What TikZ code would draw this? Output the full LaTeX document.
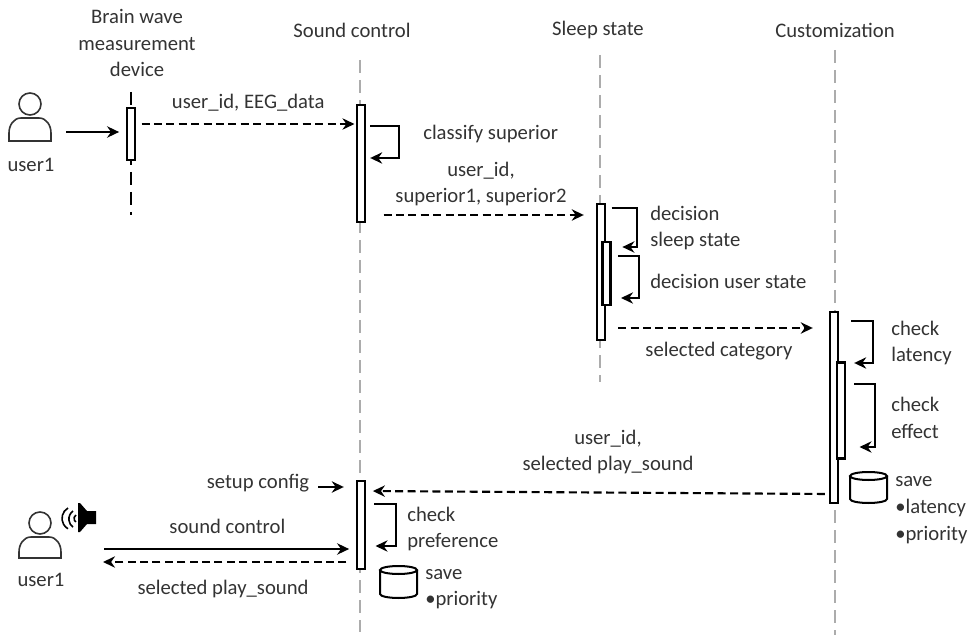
\documentclass[tikz,border=0pt]{standalone}
\usepackage{fontspec}
\setmainfont{Carlito}
\usetikzlibrary{arrows.meta}

\begin{document}
\begin{tikzpicture}[
        x=0.75pt, y=-0.75pt,
        actbox/.style={rectangle, draw=black, fill=white, line width=1.8pt, inner sep=0pt, minimum width=6pt},
        lifeline/.style={dash pattern=on 10pt off 5pt, line width=1.3pt, gray!65},
        msg/.style={-{Stealth[length=9pt,width=8.5pt]}, line width=1.6pt, black},
        dashmsg/.style={msg, dash pattern=on 6pt off 3.3pt},
        selfmsg/.style={msg, line width=1.4pt},
        label/.style={text=black!80, font=\fontsize{15.5}{20}\selectfont, align=center, inner sep=0pt},
        leftlabel/.style={label, align=left, anchor=west},
        actor/.style={draw=black!80, line width=1.2pt, fill=white},
        store/.style={draw=black, line width=1.5pt, fill=white}
    ]
    \useasboundingbox (0,0) rectangle (972,638);

    % Lifelines
    \node[label] (devname) at (137,43) {Brain wave\\measurement\\device};
    \node[label] (sndname) at (352,30) {Sound control};
    \node[label] (slpname) at (598,30) {Sleep state};
    \node[label] (cusname) at (835,30) {Customization};
    \draw[lifeline, black, line width=1.5pt] (131,92) -- (131,215);
    \draw[lifeline] (360,60) -- (360,632);
    \draw[lifeline] (600,55) -- (600,382);
    \draw[lifeline] (835,50) -- (835,635);

    % Activation boxes
    \node[actbox, minimum height=39pt] (devbox) at (131,134) {};
    \node[actbox, minimum height=88pt] (sndtop) at (361,163.5) {};
    \node[actbox, minimum height=102pt] (slpbox) at (601,272) {};
    \node[actbox, minimum height=47pt] (slpin) at (606.5,273.5) {};
    \node[actbox, minimum height=143pt] (cusbox) at (834,407.5) {};
    \node[actbox, minimum height=72pt] (cusin) at (841,410.5) {};
    \node[actbox, minimum height=66pt] (sndbot) at (361,525) {};

    % Actors
    \node[circle, actor, minimum size=16.5pt, inner sep=0pt] (usertop) at (30,104) {};
    \draw[actor] (9,141) -- (9,133) to[out=90, in=180] (21,118) -- (39,118) to[out=0, in=90] (51,133) -- (51,141) -- cycle;
    \node[label] (usertoptxt) at (31,165) {user1};
    \node[circle, actor, minimum size=16.5pt, inner sep=0pt] (userbot) at (40,523) {};
    \draw[actor] (19,558) -- (19,552) to[out=90, in=180] (31,537) -- (49,537) to[out=0, in=90] (61,552) -- (61,558) -- cycle;
    \node[label] (userbottxt) at (41,580) {user1};

    % Speaker
    \fill[black] (78,503) -- (80,503) -- (87,511) -- (96,511) -- (96,524) -- (87,524) -- (80,532) -- (78,532) -- cycle;
    \draw[line width=1.2pt] (68,508) arc (240:120:12);
    \draw[line width=1.2pt] (73,511) arc (234:126:10);
    \draw[line width=1.2pt] (76,515) arc (240:120:4);

    % Top messages
    \coordinate (userout) at (66,132);
    \draw[msg, shorten >=5pt] (userout) -- (devbox.west |- userout);
    \draw[dashmsg, shorten <=4pt, shorten >=1pt] (devbox.east |- 0,124) -- node[label, above=9pt, pos=0.51] {user\_id, EEG\_data} (sndtop.west |- 0,124);
    \draw[selfmsg, shorten <=3pt, shorten >=3pt] (sndtop.east |- 0,126) -| (399,158) -- (sndtop.east |- 0,158);
    \node[leftlabel] (classify) at (423,134) {classify superior};
    \draw[dashmsg, shorten <=13pt, shorten >=9pt] (sndtop.east |- 0,215) -- (slpbox.west |- 0,215);
    \node[label] (superiors) at (481,184) {user\_id,\\superior1, superior2};

    % Sleep state messages
    \draw[selfmsg, shorten <=4pt, shorten >=8pt] (slpbox.east |- 0,208) -| (637,247) -- (slpin.east |- 0,247);
    \node[leftlabel] (decsleep) at (650,228) {decision\\sleep state};
    \draw[selfmsg, shorten <=5pt, shorten >=7pt] (slpin.east |- 0,256) -| (639,298) -- (slpin.east |- 0,298);
    \node[leftlabel] (decuser) at (650,281) {decision user state};
    \draw[dashmsg, shorten <=9pt, shorten >=12pt] (slpbox.east |- 0,328) -- (cusbox.west |- 0,328);
    \node[label] (category) at (719,351) {selected category};

    % Customization messages
    \draw[selfmsg, shorten <=9pt, shorten >=6pt] (cusbox.east |- 0,321) -| (873,363) -- (cusin.east |- 0,363);
    \node[leftlabel] (chklat) at (891,343) {check\\latency};
    \draw[selfmsg, shorten <=6pt, shorten >=10pt] (cusin.east |- 0,384) -| (875,447) -- (cusin.east |- 0,447);
    \node[leftlabel] (chkeff) at (891,418) {check\\effect};
    \draw[store] (850,476) -- (850,499) arc (180:0:18.5 and 4) -- (887,476);
    \draw[store] (868.5,476) ellipse (18.5 and 4);
    \node[leftlabel] (cussave) at (895,510) {save\\•latency\\•priority};

    % Bottom messages
    \draw[dashmsg, shorten <=3pt, shorten >=5pt] (cusbox.west |- 0,494) -- (sndbot.east |- 0,491);
    \node[label] (playsound) at (608,452) {user\_id,\\selected play\_sound};
    \node[label] (setup) at (258,483) {setup config};
    \coordinate (setupout) at (318,487);
    \draw[msg, shorten >=9pt] (setupout) -- (sndbot.west |- setupout);
    \coordinate (usersend) at (104,549);
    \draw[msg, shorten >=5pt] (usersend) -- node[label, above=11pt, pos=0.49] {sound control} (sndbot.west |- usersend);
    \coordinate (userback) at (103,562);
    \draw[dashmsg, shorten <=7pt] (sndbot.west |- userback) -- (userback);
    \node[label] (selplay) at (223,589) {selected play\_sound};
    \draw[selfmsg, shorten <=6pt, shorten >=7pt] (sndbot.east |- 0,504) -| (396,546) -- (sndbot.east |- 0,546);
    \node[leftlabel] (chkpref) at (407,529) {check\\preference};
    \draw[store] (380,570) -- (380,594) arc (180:0:18.5 and 4) -- (417,570);
    \draw[store] (398.5,570) ellipse (18.5 and 4);
    \node[leftlabel] (sndsave) at (425,589) {save\\•priority};
\end{tikzpicture}
\end{document}
